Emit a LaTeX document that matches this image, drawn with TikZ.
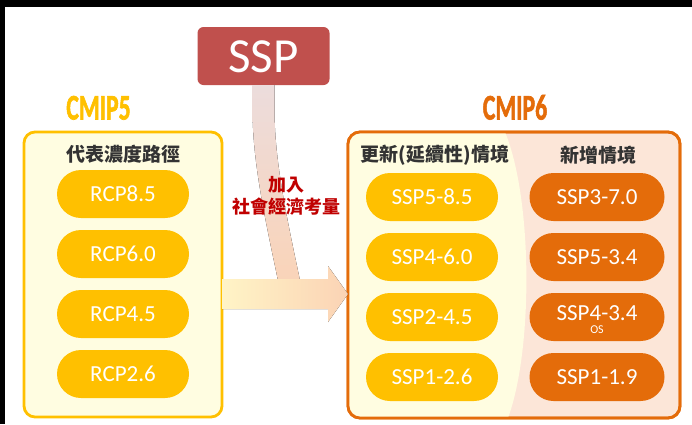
\documentclass[tikz,border=0pt]{standalone}
\usepackage{fontspec}
\setmainfont{Carlito}
\newfontfamily\cjk{Noto Sans CJK TC}
\newfontfamily\titlefont{Carlito}[BoldFeatures={FakeBold=2}]
\usetikzlibrary{positioning,calc,shapes.misc}
\definecolor{cmipyellow}{HTML}{FFC000}
\definecolor{cmiporange}{HTML}{E46C0A}
\definecolor{sspred}{HTML}{C0504D}
\definecolor{paleyellow}{HTML}{FFFDE1}
\definecolor{palepeach}{HTML}{FCE6D8}
\definecolor{bandpeach}{HTML}{FBD3B5}
\definecolor{bandpink}{HTML}{ECDCDC}
\definecolor{bandmid}{HTML}{F3D5D1}
\definecolor{arrowyellow}{HTML}{FFF4C6}
\definecolor{notered}{HTML}{C00000}
\definecolor{headgray}{HTML}{333333}
\tikzset{
	panel/.style={draw, line width=2.8pt, rounded corners=11pt, outer sep=0pt,
		minimum width=#1},
	pill/.style={rounded rectangle, minimum width=132pt, minimum height=48pt,
		inner sep=0pt, outer sep=0pt, text=white,
		font=\fontsize{23}{23}\selectfont, text height=15pt, text depth=0pt},
	pill5/.style={pill, fill=cmipyellow},
	pill6/.style={pill, fill=cmiporange, minimum width=135pt},
	os tag/.style={font=\fontsize{12}{12}\selectfont, text=white, inner sep=0pt},
	title/.style={font=\titlefont\bfseries\fontsize{36}{36}\selectfont,
		inner sep=0pt, text height=23pt, text depth=0pt},
	head/.style={font=\cjk\bfseries\fontsize{19}{19}\selectfont, text=headgray, inner sep=0pt},
	sspbox/.style={fill=sspred, rounded corners=6pt, minimum width=132pt,
		minimum height=58pt, inner sep=0pt, text=white,
		font=\fontsize{49}{49}\selectfont, text height=32pt, text depth=0pt},
	note/.style={font=\cjk\bfseries\fontsize{18}{22}\selectfont, text=notered, align=center,
		inner sep=0pt}
}

\begin{document}
\begin{tikzpicture}[x=1pt, y=-1pt]
	\useasboundingbox (0,0) rectangle (692,424);
	\fill[white] (0,0) rectangle (692,424);
	\fill[black] (0,0) rectangle (692,7);
	\fill[black] (0,0) rectangle (5,424);

	% CMIP5 side
	\node[panel=198pt, minimum height=285pt, draw=cmipyellow, fill=paleyellow]
		(box5) at (123,274.5) {};
	\node[title, text=cmipyellow] (t5) at (98.5,108) {\scalebox{0.66}[1]{CMIP5}};
	\node[head] (head5) at (123,154) {代表濃度路徑};
	\node[pill5] (rcp85) at (123,194) {RCP8.5};
	\node[pill5, below=12pt of rcp85] (rcp60) {RCP6.0};
	\node[pill5, below=12pt of rcp60] (rcp45) {RCP4.5};
	\node[pill5, below=12pt of rcp45] (rcp26) {RCP2.6};

	% CMIP6 side, two backgrounds
	\node[panel=332pt, minimum height=286pt, draw=cmiporange, fill=palepeach,
		rounded corners=12pt] (box6) at (514,275) {};
	\begin{scope}
		\clip[rounded corners=12pt] (box6.north west) rectangle (box6.south east);
		\fill[paleyellow] (box6.north west) -- (505,132)
			.. controls (533,200) and (533,350) .. (508,418) -- (box6.south west) -- cycle;
	\end{scope}
	\draw[line width=2.8pt, cmiporange, rounded corners=12pt]
		(box6.north west) rectangle (box6.south east);
	\node[title, text=cmiporange] (t6) at (515,108) {\scalebox{0.66}[1]{CMIP6}};
	\node[head] (head6a) at (435,155) {更新(延續性)情境};
	\node[head] (head6b) at (598,155) {新增情境};

	\node[pill5] (ssp585) at (432,197) {SSP5-8.5};
	\node[pill5, below=12pt of ssp585] (ssp460) {SSP4-6.0};
	\node[pill5, below=12pt of ssp460] (ssp245) {SSP2-4.5};
	\node[pill5, below=12pt of ssp245] (ssp126) {SSP1-2.6};

	\node[pill6] (ssp370) at (597,197) {SSP3-7.0};
	\node[pill6, below=12pt of ssp370] (ssp534) {SSP5-3.4};
	\node[pill6, below=12pt of ssp534] (ssp434) {\raisebox{4pt}{SSP4-3.4}};
	\node[os tag, above=7pt of ssp434.south] (os) {OS};
	\node[pill6, below=12pt of ssp434] (ssp119) {SSP1-1.9};

	% SSP and the arrows
	\node[sspbox] (ssp) at (263.5,56) {SSP};
	\path (ssp.south) ++(-11,0) coordinate (bandL) ++(22,0) coordinate (bandR);
	\fill[top color=bandpink, middle color=bandmid, bottom color=bandpeach]
		(bandL) -- ++(0,25) .. controls +(0,60) and (270,240) .. (282,300)
		-- (304,300) .. controls (292,240) and ($(bandR)+(0,85)$) .. ($(bandR)+(0,25)$)
		-- (bandR) -- cycle;

	\path (box5.east |- 0,294) coordinate (arrL);
	\path (box6.west |- arrL) coordinate (arrR);
	\fill[left color=arrowyellow, middle color=bandpeach!90!white, right color=bandpeach]
		($(arrL)+(0,-15)$) -- ($(arrR)+(-20,-15)$) -- ($(arrR)+(-20,-28)$) -- (arrR)
		-- ($(arrR)+(-20,28)$) -- ($(arrR)+(-20,15)$) -- ($(arrL)+(0,15)$) -- cycle;

	\node[note] (addnote) at (286,196) {加入\\社會經濟考量};
\end{tikzpicture}
\end{document}
